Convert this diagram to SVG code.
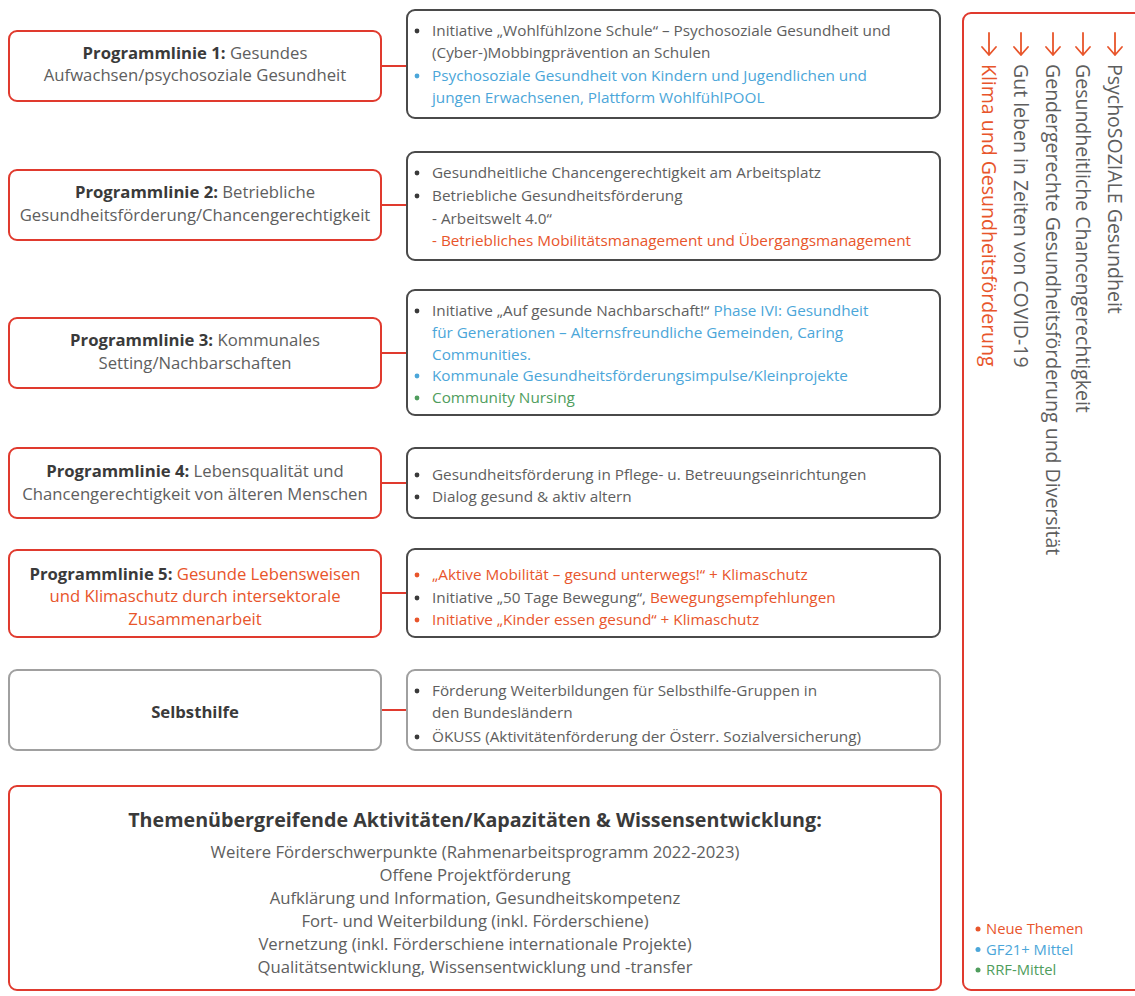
<svg xmlns="http://www.w3.org/2000/svg" width="1135" height="996" viewBox="0 0 1135 996">
<style>
text{font-family:"Open Sans","Liberation Sans",sans-serif;fill:#5e5e5e}
.lb{fill:#fff;stroke:#e03a2e;stroke-width:2}
.lbg{fill:#fff;stroke:#a0a0a0;stroke-width:2}
.rb{fill:#fff;stroke:#4a4a4a;stroke-width:2}
.rbg{fill:#fff;stroke:#a0a0a0;stroke-width:2}
.lt{font-size:16.7px;text-anchor:middle}
.b{font-weight:700;fill:#3a3a3a}
.rt{font-size:15.3px}
.or{fill:#e8552b}
.bl{fill:#4ba6d9}
.gr{fill:#4f9d5d}
.vt{font-size:19.5px}
.lg{font-size:14.8px}
circle{fill:#3a3a3a}
circle.or{fill:#e8552b}
circle.bl{fill:#4ba6d9}
circle.gr{fill:#4f9d5d}
.con line{stroke:#e03a2e;stroke-width:2}
.arr{fill:none;stroke:#e8552b;stroke-width:1.8;stroke-linecap:round;stroke-linejoin:round}
</style>
<defs>
<path id="a" class="arr" d="M0,33 V55 M-7,47 L0,55 L7,47"/>
</defs>
<g class="con">
<line x1="381" y1="66" x2="407" y2="66"/>
<line x1="381" y1="205" x2="407" y2="205"/>
<line x1="381" y1="353" x2="407" y2="353"/>
<line x1="381" y1="483" x2="407" y2="483"/>
<line x1="381" y1="593" x2="407" y2="593"/>
<line x1="381" y1="710" x2="407" y2="710"/>
</g>
<g id="pl1">
<rect class="lb" x="9" y="31" width="372" height="70" rx="8"/>
<text class="lt" x="195" y="59"><tspan class="b">Programmlinie 1:</tspan> Gesundes</text>
<text class="lt" x="195" y="81">Aufwachsen/psychosoziale Gesundheit</text>
</g>
<g id="d1">
<rect class="rb" x="407" y="10" width="533" height="108" rx="8"/>
<circle cx="417" cy="31" r="2.4"/>
<text class="rt" x="432" y="36">Initiative „Wohlfühlzone Schule“ – Psychosoziale Gesundheit und</text>
<text class="rt" x="432" y="58">(Cyber-)Mobbingprävention an Schulen</text>
<circle class="bl" cx="417" cy="76" r="2.4"/>
<text class="rt bl" x="432" y="81">Psychosoziale Gesundheit von Kindern und Jugendlichen und</text>
<text class="rt bl" x="432" y="103">jungen Erwachsenen, Plattform WohlfühlPOOL</text>
</g>
<g id="pl2">
<rect class="lb" x="9" y="170" width="372" height="70" rx="8"/>
<text class="lt" x="195" y="198"><tspan class="b">Programmlinie 2:</tspan> Betriebliche</text>
<text class="lt" x="195" y="221">Gesundheitsförderung/Chancengerechtigkeit</text>
</g>
<g id="d2">
<rect class="rb" x="407" y="152" width="533" height="108" rx="8"/>
<circle cx="417" cy="173" r="2.4"/>
<text class="rt" x="432" y="178">Gesundheitliche Chancengerechtigkeit am Arbeitsplatz</text>
<circle cx="417" cy="196" r="2.4"/>
<text class="rt" x="432" y="201">Betriebliche Gesundheitsförderung</text>
<text class="rt" x="432" y="224">- Arbeitswelt 4.0“</text>
<text class="rt or" x="432" y="246">- Betriebliches Mobilitätsmanagement und Übergangsmanagement</text>
</g>
<g id="pl3">
<rect class="lb" x="9" y="318" width="372" height="70" rx="8"/>
<text class="lt" x="195" y="346"><tspan class="b">Programmlinie 3:</tspan> Kommunales</text>
<text class="lt" x="195" y="369">Setting/Nachbarschaften</text>
</g>
<g id="d3">
<rect class="rb" x="407" y="290" width="533" height="125" rx="8"/>
<circle cx="417" cy="311" r="2.4"/>
<text class="rt" x="432" y="316">Initiative „Auf gesunde Nachbarschaft!“ <tspan class="bl">Phase IVI: Gesundheit</tspan></text>
<text class="rt bl" x="432" y="338">für Generationen – Alternsfreundliche Gemeinden, Caring</text>
<text class="rt bl" x="432" y="360">Communities.</text>
<circle class="bl" cx="417" cy="376" r="2.4"/>
<text class="rt bl" x="432" y="381">Kommunale Gesundheitsförderungsimpulse/Kleinprojekte</text>
<circle class="gr" cx="417" cy="398" r="2.4"/>
<text class="rt gr" x="432" y="403">Community Nursing</text>
</g>
<g id="pl4">
<rect class="lb" x="9" y="448" width="372" height="70" rx="8"/>
<text class="lt" x="195" y="477"><tspan class="b">Programmlinie 4:</tspan> Lebensqualität und</text>
<text class="lt" x="195" y="500">Chancengerechtigkeit von älteren Menschen</text>
</g>
<g id="d4">
<rect class="rb" x="407" y="448" width="533" height="70" rx="8"/>
<circle cx="417" cy="475" r="2.4"/>
<text class="rt" x="432" y="480">Gesundheitsförderung in Pflege- u. Betreuungseinrichtungen</text>
<circle cx="417" cy="497" r="2.4"/>
<text class="rt" x="432" y="502">Dialog gesund &amp; aktiv altern</text>
</g>
<g id="pl5">
<rect class="lb" x="9" y="550" width="372" height="87" rx="8"/>
<text class="lt" x="195" y="580"><tspan class="b">Programmlinie 5:</tspan> <tspan class="or">Gesunde Lebensweisen</tspan></text>
<text class="lt or" x="195" y="602">und Klimaschutz durch intersektorale</text>
<text class="lt or" x="195" y="625">Zusammenarbeit</text>
</g>
<g id="d5">
<rect class="rb" x="407" y="549" width="533" height="88" rx="8"/>
<circle class="or" cx="417" cy="575" r="2.4"/>
<text class="rt or" x="432" y="580">„Aktive Mobilität – gesund unterwegs!“ + Klimaschutz</text>
<circle cx="417" cy="598" r="2.4"/>
<text class="rt" x="432" y="603">Initiative „50 Tage Bewegung“, <tspan class="or">Bewegungsempfehlungen</tspan></text>
<circle class="or" cx="417" cy="620" r="2.4"/>
<text class="rt or" x="432" y="625">Initiative „Kinder essen gesund“ + Klimaschutz</text>
</g>
<g id="sh">
<rect class="lbg" x="9" y="670" width="372" height="80" rx="8"/>
<text class="lt b" x="195" y="718">Selbsthilfe</text>
</g>
<g id="d6">
<rect class="rbg" x="407" y="670" width="533" height="80" rx="8"/>
<circle cx="417" cy="691" r="2.4"/>
<text class="rt" x="432" y="696">Förderung Weiterbildungen für Selbsthilfe-Gruppen in</text>
<text class="rt" x="432" y="718">den Bundesländern</text>
<circle cx="417" cy="737" r="2.4"/>
<text class="rt" x="432" y="742">ÖKUSS (Aktivitätenförderung der Österr. Sozialversicherung)</text>
</g>
<g id="quer">
<rect class="lb" x="9" y="786" width="932" height="204" rx="8"/>
<text x="475" y="827" text-anchor="middle" style="font-size:19.7px;font-weight:700;fill:#3a3a3a">Themenübergreifende Aktivitäten/Kapazitäten &amp; Wissensentwicklung:</text>
<text class="lt" x="475" y="858">Weitere Förderschwerpunkte (Rahmenarbeitsprogramm 2022-2023)</text>
<text class="lt" x="475" y="881">Offene Projektförderung</text>
<text class="lt" x="475" y="904">Aufklärung und Information, Gesundheitskompetenz</text>
<text class="lt" x="475" y="927">Fort- und Weiterbildung (inkl. Förderschiene)</text>
<text class="lt" x="475" y="950">Vernetzung (inkl. Förderschiene internationale Projekte)</text>
<text class="lt" x="475" y="973">Qualitätsentwicklung, Wissensentwicklung und -transfer</text>
</g>
<g id="themen">
<rect class="lb" x="963" y="13" width="200" height="977" rx="8"/>
<use href="#a" x="989"/>
<use href="#a" x="1021"/>
<use href="#a" x="1053"/>
<use href="#a" x="1083"/>
<use href="#a" x="1115"/>
<text class="vt or" transform="translate(989,64) rotate(90)" y="7">Klima und Gesundheitsförderung</text>
<text class="vt" transform="translate(1021,64) rotate(90)" y="7">Gut leben in Zeiten von COVID-19</text>
<text class="vt" transform="translate(1053,64) rotate(90)" y="7">Gendergerechte Gesundheitsförderung und Diversität</text>
<text class="vt" transform="translate(1083,64) rotate(90)" y="7">Gesundheitliche Chancengerechtigkeit</text>
<text class="vt" transform="translate(1115,64) rotate(90)" y="7">PsychoSOZIALE Gesundheit</text>
</g>
<g id="legende">
<circle class="or" cx="978" cy="929" r="2.5"/>
<text class="lg or" x="986" y="934">Neue Themen</text>
<circle class="bl" cx="978" cy="949.5" r="2.5"/>
<text class="lg bl" x="986" y="954.5">GF21+ Mittel</text>
<circle class="gr" cx="978" cy="970" r="2.5"/>
<text class="lg gr" x="986" y="975">RRF-Mittel</text>
</g>
</svg>
